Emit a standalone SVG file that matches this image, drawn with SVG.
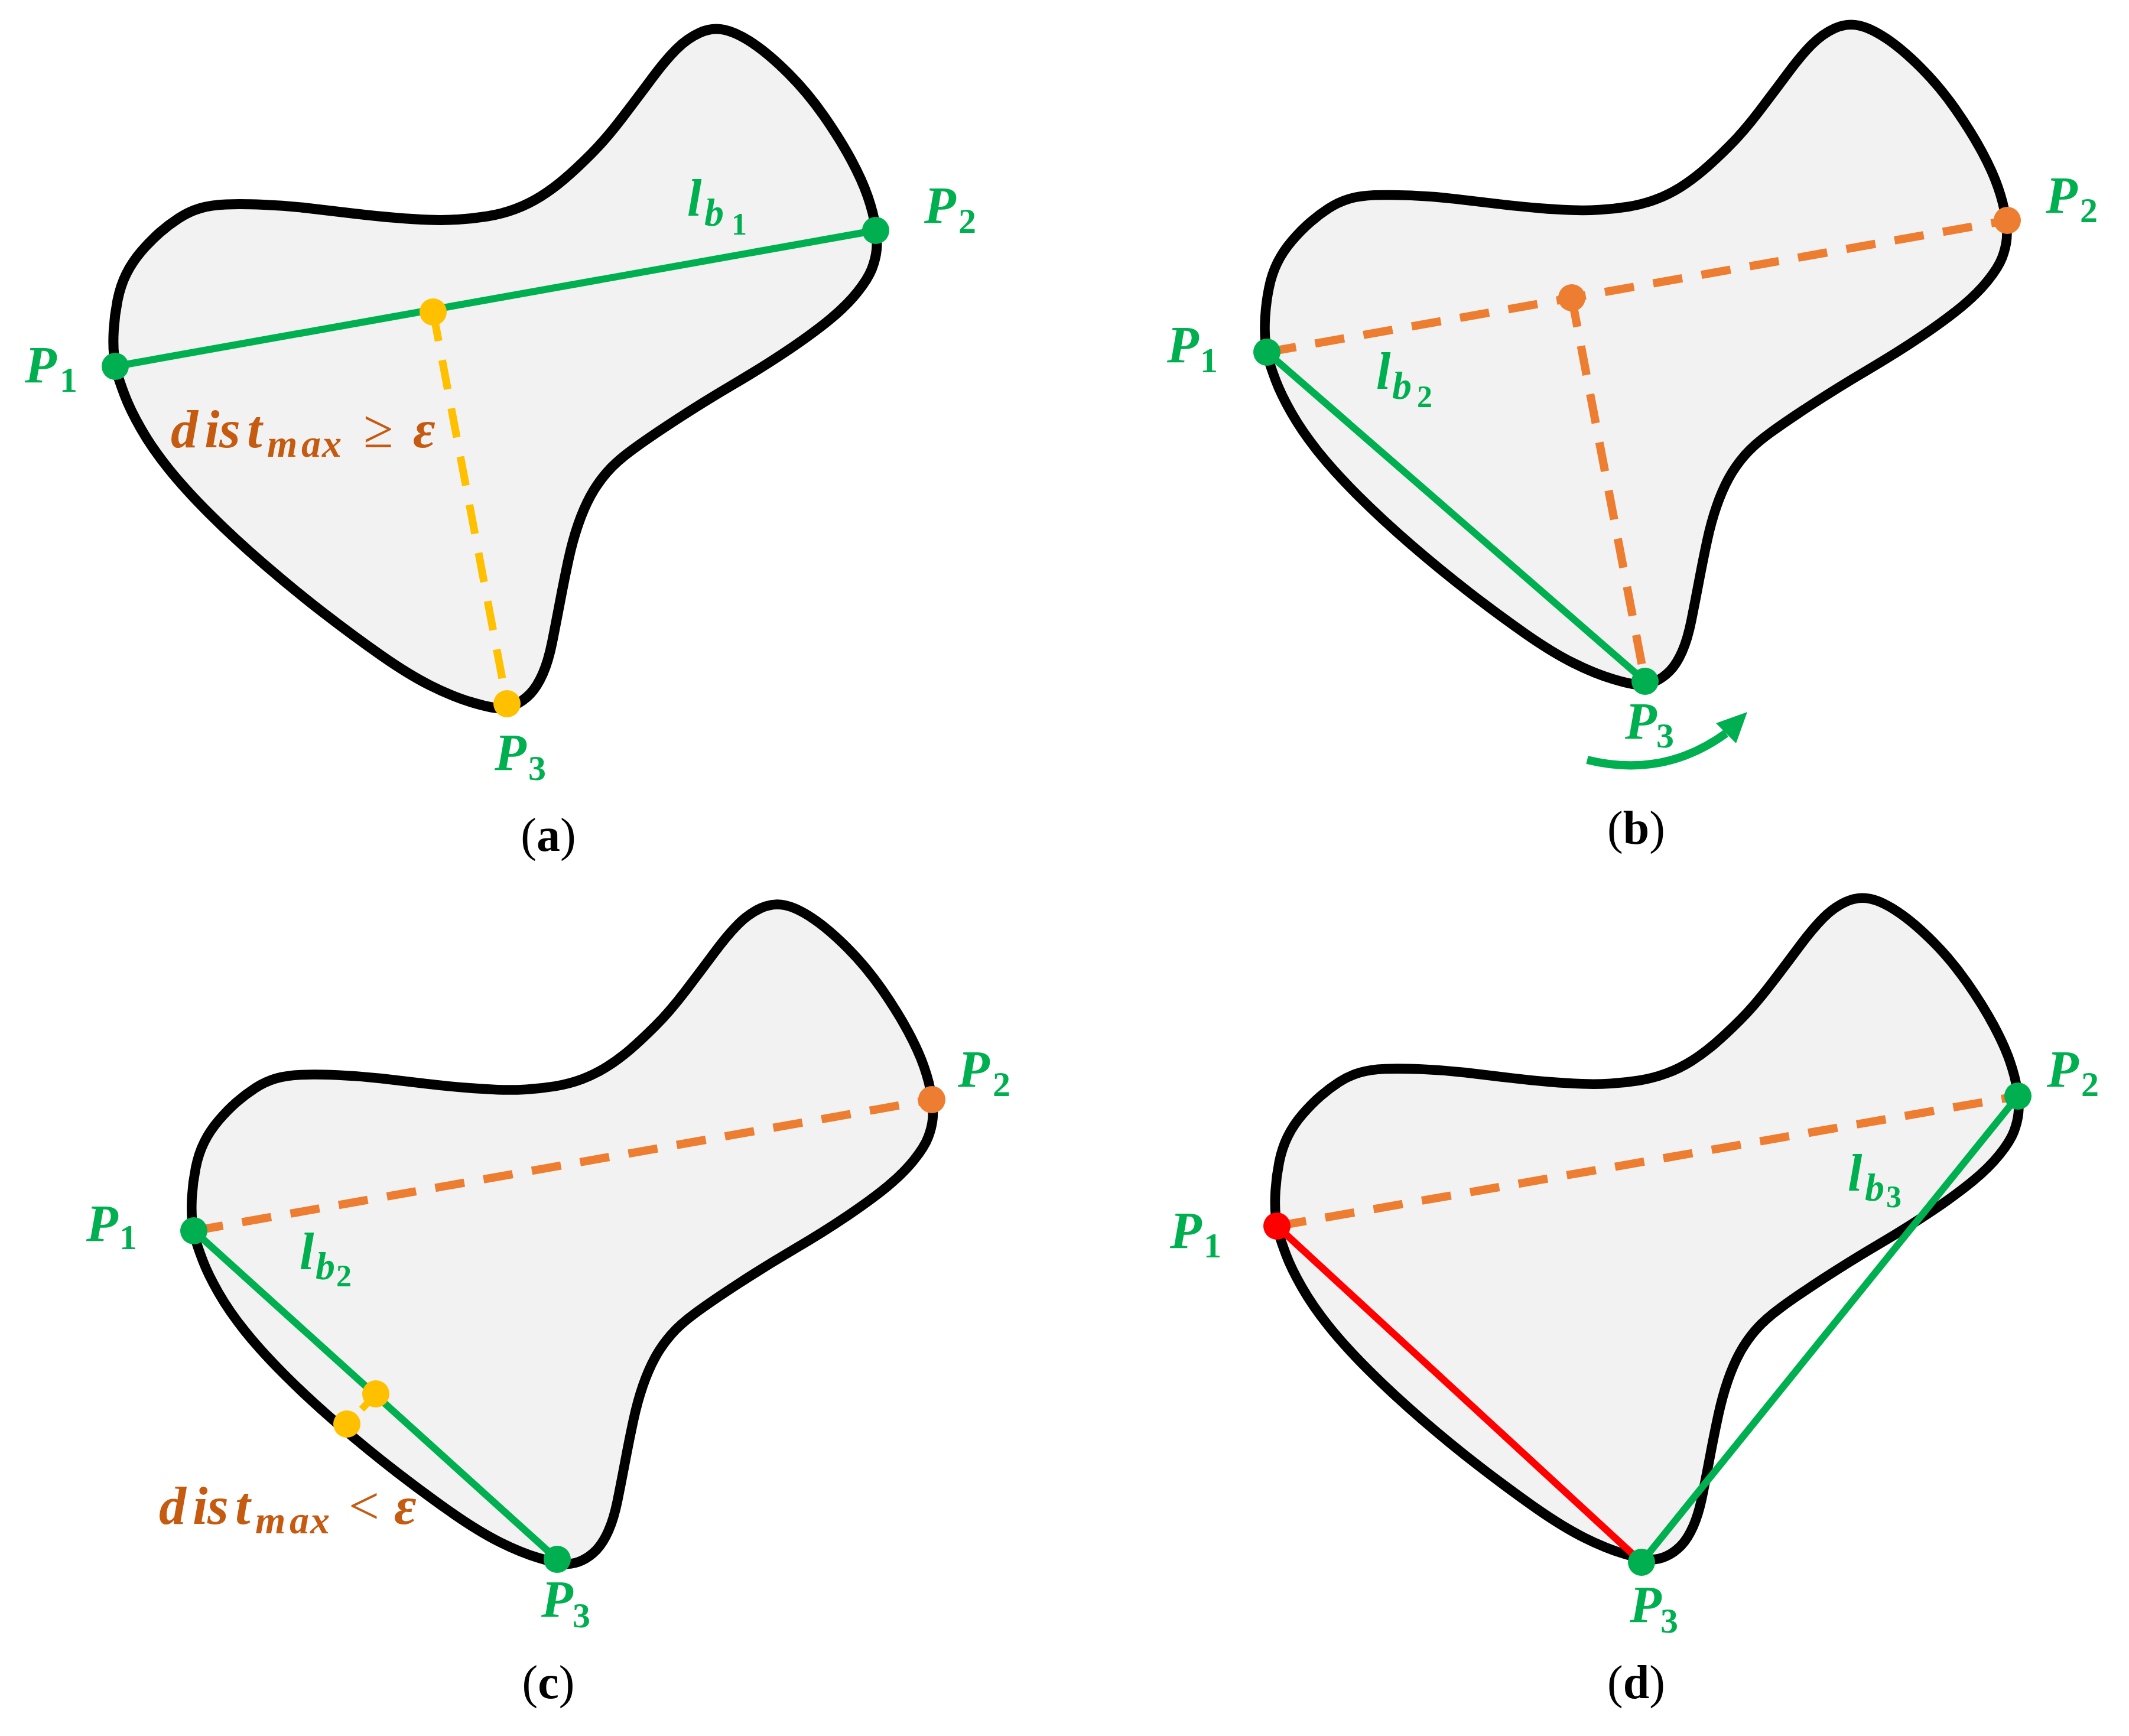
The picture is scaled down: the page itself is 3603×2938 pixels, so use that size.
<svg xmlns="http://www.w3.org/2000/svg" width="3603" height="2938" viewBox="0 0 3603 2938">
<style>
.shape{fill:#F2F2F2;stroke:#000;stroke-width:17;stroke-linejoin:round}
.g{stroke:#00B050;stroke-width:12;fill:none}
.r{stroke:#FF0000;stroke-width:12;fill:none}
.od{stroke:#ED7D31;stroke-width:14;stroke-dasharray:50 33;fill:none}
.yd{stroke:#FFC000;stroke-width:13;stroke-dasharray:50 33;fill:none}
.dg{fill:#00B050}.do{fill:#ED7D31}.dy{fill:#FFC000}.dr{fill:#FF0000}
.lbl{font-family:"Liberation Serif",serif;font-weight:bold;font-style:italic;fill:#00B050;font-size:88px}
.sub{font-style:normal;font-size:60px}
.lsub{font-size:66px}
.ssub{font-style:normal;font-size:52px}
.dist{font-family:"Liberation Serif",serif;font-weight:bold;font-style:italic;fill:#C55A11;font-size:92px}
.ms{font-size:66px}
.op{font-style:normal;font-weight:normal}
.cap{font-family:"Liberation Serif",serif;font-size:80px;fill:#000;text-anchor:middle}
</style>
<defs>
<path id="blob" class="shape" d="M193,601.5 Q191,583 192.5,558 Q194,533 199,508 Q204,483 214,463 Q224,443 239.5,425 Q255,407 270.5,393.5 Q286,380 303,369 Q320,358 338.5,352.5 Q357,347 382.5,346 Q408,345 446.5,346.5 Q485,348 523,352.5 Q561,357 599.5,361.5 Q638,366 669,368.5 Q700,371 725,372 Q750,373 775,371.5 Q800,370 825,366 Q850,362 872.5,353.5 Q895,345 915,332.5 Q935,320 955,303 Q975,286 1000,261 Q1025,236 1052.5,200 Q1080,164 1103,133 Q1126,102 1144.5,83.5 Q1163,65 1184,55.5 Q1205,46 1226,50.5 Q1247,55 1274.5,73.5 Q1302,92 1334.5,124.5 Q1367,157 1394.5,196.5 Q1422,236 1440.5,270.5 Q1459,305 1468.5,332.5 Q1478,360 1481.5,383.5 Q1485,407 1483.5,422.5 Q1482,438 1475.5,455 Q1469,472 1450.5,495 Q1432,518 1404,541 Q1376,564 1334.5,592 Q1293,620 1242,650 Q1191,680 1145,710 Q1099,740 1071,760.5 Q1043,781 1027,799.5 Q1011,818 999.5,839 Q988,860 978.5,887.5 Q969,915 962,947.5 Q955,980 948,1017 Q941,1054 934.5,1086.5 Q928,1119 918.5,1140.5 Q909,1162 897.5,1174 Q886,1186 872,1192.5 Q858,1199 844,1198.5 Q830,1198 798,1188.5 Q766,1179 729,1160.5 Q692,1142 645.5,1109.5 Q599,1077 548.5,1038 Q498,999 447,955 Q396,911 354.5,869.5 Q313,828 285,793 Q257,758 238.5,725.5 Q220,693 211,669 Q202,645 198.5,632.5 Q195,620 193,601.5 Z"/>
</defs>
<rect width="3603" height="2938" fill="#fff"/>

<!-- Panel (a) -->
<g id="panel-a">
<use id="shape-a" href="#blob"/>
<g id="connectors-a">
<line class="g" x1="195" y1="620" x2="1482" y2="390"/>
<line class="yd" x1="733" y1="528" x2="858" y2="1191"/>
</g>
<g id="a-P1"><circle class="dg" cx="195" cy="620" r="23"/><text class="lbl"><tspan x="42" y="647">P</tspan><tspan class="sub" x="101" y="663">1</tspan></text></g>
<g id="a-P2"><circle class="dg" cx="1482" cy="390" r="23"/><text class="lbl"><tspan x="1564" y="377">P</tspan><tspan class="sub" x="1622" y="394">2</tspan></text></g>
<g id="a-foot"><circle class="dy" cx="733" cy="528" r="23"/></g>
<g id="a-P3"><circle class="dy" cx="858" cy="1191" r="23"/><text class="lbl"><tspan x="837" y="1303">P</tspan><tspan class="sub" x="894" y="1320">3</tspan></text></g>
<text id="a-lb1" class="lbl"><tspan x="1163" y="365">l</tspan><tspan class="lsub" x="1192" y="382">b</tspan><tspan class="ssub" x="1238" y="397">1</tspan></text>
<text id="a-dist" class="dist"><tspan x="289 346 371 418" y="757">dist</tspan><tspan class="ms" x="452 510 545" y="773">max</tspan><tspan class="op" x="615" y="757">≥</tspan><tspan x="699" y="757">ε</tspan></text>
<text id="cap-a" class="cap" x="928" y="1440">(<tspan font-weight="bold">a</tspan>)</text>
</g>

<!-- Panel (b) -->
<g id="panel-b">
<use id="shape-b" href="#blob" transform="translate(1954,-6) scale(0.972)"/>
<g id="connectors-b">
<line class="od" x1="2144" y1="596" x2="3397" y2="373"/>
<line class="od" x1="2660" y1="504" x2="2784" y2="1153"/>
<line class="g" x1="2144" y1="596" x2="2784" y2="1153"/>
<path d="M2686,1286 Q2815,1318 2921,1241" fill="none" stroke="#00B050" stroke-width="14"/>
<polygon points="2957,1205 2904,1224 2938,1258" fill="#00B050"/>
</g>
<g id="b-P1"><circle class="dg" cx="2144" cy="596" r="23"/><text class="lbl"><tspan x="1975" y="613">P</tspan><tspan class="sub" x="2031" y="630">1</tspan></text></g>
<g id="b-P2"><circle class="do" cx="3397" cy="373" r="23"/><text class="lbl"><tspan x="3462" y="360">P</tspan><tspan class="sub" x="3520" y="376">2</tspan></text></g>
<g id="b-foot"><circle class="do" cx="2660" cy="504" r="23"/></g>
<g id="b-P3"><circle class="dg" cx="2784" cy="1153" r="23"/><text class="lbl"><tspan x="2750" y="1250">P</tspan><tspan class="sub" x="2803" y="1265">3</tspan></text></g>
<text id="b-lb2" class="lbl"><tspan x="2329" y="658">l</tspan><tspan class="lsub" x="2356" y="675">b</tspan><tspan class="ssub" x="2398" y="689">2</tspan></text>
<text id="cap-b" class="cap" x="2769" y="1428">(<tspan font-weight="bold">b</tspan>)</text>
</g>

<!-- Panel (c) -->
<g id="panel-c">
<use id="shape-c" href="#blob" transform="translate(138,1483) scale(0.971)"/>
<g id="connectors-c">
<line class="od" x1="328" y1="2083" x2="1577" y2="1861"/>
<line class="g" x1="328" y1="2083" x2="943" y2="2639"/>
<line x1="628" y1="2368" x2="612" y2="2385" stroke="#FFC000" stroke-width="12"/>
</g>
<g id="c-P1"><circle class="dg" cx="328" cy="2083" r="23"/><text class="lbl"><tspan x="146" y="2100">P</tspan><tspan class="sub" x="202" y="2114">1</tspan></text></g>
<g id="c-P2"><circle class="do" cx="1577" cy="1861" r="23"/><text class="lbl"><tspan x="1621" y="1839">P</tspan><tspan class="sub" x="1680" y="1855">2</tspan></text></g>
<g id="c-Y1"><circle class="dy" cx="636" cy="2359" r="23"/></g>
<g id="c-Y2"><circle class="dy" cx="587" cy="2410" r="23"/></g>
<g id="c-P3"><circle class="dg" cx="943" cy="2639" r="23"/><text class="lbl"><tspan x="916" y="2736">P</tspan><tspan class="sub" x="969" y="2754">3</tspan></text></g>
<text id="c-lb2" class="lbl"><tspan x="507" y="2148">l</tspan><tspan class="lsub" x="534" y="2165">b</tspan><tspan class="ssub" x="569" y="2177">2</tspan></text>
<text id="c-dist" class="dist"><tspan x="269 326 351 398" y="2579">dist</tspan><tspan class="ms" x="432 490 525" y="2595">max</tspan><tspan class="op" x="590" y="2579">&lt;</tspan><tspan x="667" y="2579">ε</tspan></text>
<text id="cap-c" class="cap" x="928" y="2874">(<tspan font-weight="bold">c</tspan>)</text>
</g>

<!-- Panel (d) -->
<g id="panel-d">
<use id="shape-d" href="#blob" transform="translate(1971,1472) scale(0.974)"/>
<g id="connectors-d">
<line class="od" x1="2161" y1="2075" x2="3415" y2="1855"/>
<line class="r" x1="2161" y1="2075" x2="2778" y2="2644"/>
<line class="g" x1="2778" y1="2644" x2="3415" y2="1855"/>
</g>
<g id="d-P1"><circle class="dr" cx="2161" cy="2075" r="23"/><text class="lbl"><tspan x="1980" y="2112">P</tspan><tspan class="sub" x="2037" y="2128">1</tspan></text></g>
<g id="d-P2"><circle class="dg" cx="3415" cy="1855" r="23"/><text class="lbl"><tspan x="3464" y="1839">P</tspan><tspan class="sub" x="3522" y="1855">2</tspan></text></g>
<g id="d-P3"><circle class="dg" cx="2778" cy="2644" r="23"/><text class="lbl"><tspan x="2758" y="2745">P</tspan><tspan class="sub" x="2810" y="2763">3</tspan></text></g>
<text id="d-lb3" class="lbl"><tspan x="3127" y="2015">l</tspan><tspan class="lsub" x="3156" y="2032">b</tspan><tspan class="ssub" x="3192" y="2043">3</tspan></text>
<text id="cap-d" class="cap" x="2769" y="2874">(<tspan font-weight="bold">d</tspan>)</text>
</g>
</svg>
